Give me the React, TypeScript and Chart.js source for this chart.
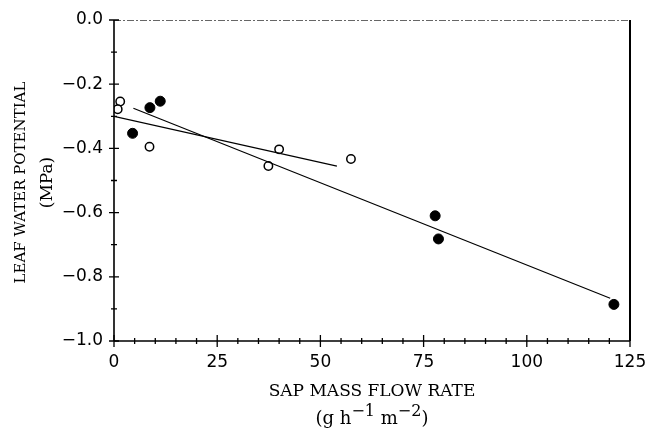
import React, { useEffect, useRef } from "react";
import { Chart, registerables } from "chart.js";

Chart.register(...registerables);

// Data
const openX = [1.5, 0.9, 8.6, 40.0, 37.4, 57.4];
const openY = [-0.254, -0.278, -0.395, -0.403, -0.455, -0.433];
const filledX = [8.7, 11.2, 4.5, 77.8, 78.6, 121.1];
const filledY = [-0.273, -0.253, -0.353, -0.61, -0.682, -0.886];
const line1X = [0, 54];
const line1Y = [-0.3, -0.455];
const line2X = [4.7, 120.2];
const line2Y = [-0.275, -0.867];
const xMajorStep = 25;
const xMinorStep = 5;
const yMajorStep = 0.2;
const yMinorStep = 0.1;
const xTitle = "SAP MASS FLOW RATE";
const yTitle = "LEAF WATER POTENTIAL";
const yUnit = "(MPa)";

const SERIF = "'DejaVu Serif', serif";
const SANS = "'DejaVu Sans', sans-serif";

const toPts = (xs: number[], ys: number[]) => xs.map((x, i) => ({ x, y: ys[i] }));

const decorPlugin = {
  id: "decor",
  afterDraw(chart: any) {
    const { ctx, chartArea } = chart;
    const xs = chart.scales.x;
    const ys = chart.scales.y;
    const { left, right, top, bottom } = chartArea;
    ctx.save();
    // top border: thin dashed grey
    ctx.strokeStyle = "#666";
    ctx.lineWidth = 1;
    ctx.setLineDash([7, 2, 2, 2]);
    ctx.beginPath();
    ctx.moveTo(left, top + 0.5);
    ctx.lineTo(right, top + 0.5);
    ctx.stroke();
    ctx.setLineDash([]);
    // right border
    ctx.strokeStyle = "#000";
    ctx.lineWidth = 2;
    ctx.beginPath();
    ctx.moveTo(right, top);
    ctx.lineTo(right, bottom);
    ctx.stroke();
    // left & bottom axes
    ctx.lineWidth = 1.6;
    ctx.beginPath();
    ctx.moveTo(left, top);
    ctx.lineTo(left, bottom);
    ctx.moveTo(left, bottom);
    ctx.lineTo(right, bottom);
    ctx.stroke();
    // ticks
    ctx.lineWidth = 1.3;
    ctx.beginPath();
    for (let v = xs.min; v <= xs.max + 1e-9; v += xMinorStep) {
      const px = xs.getPixelForValue(v);
      const major = Math.abs(v / xMajorStep - Math.round(v / xMajorStep)) < 1e-6;
      const len = major ? 6 : 3;
      ctx.moveTo(px, bottom - len);
      ctx.lineTo(px, bottom + len);
    }
    for (let v = ys.min; v <= ys.max + 1e-9; v += yMinorStep) {
      const py = ys.getPixelForValue(v);
      const major = Math.abs(v / yMajorStep - Math.round(v / yMajorStep)) < 1e-6;
      const len = major ? 5 : 3;
      ctx.moveTo(left - len, py);
      ctx.lineTo(left + len, py);
    }
    ctx.stroke();

    // x title
    ctx.fillStyle = "#000";
    const cx = (left + right) / 2;
    ctx.font = `17px ${SERIF}`;
    ctx.textAlign = "center";
    ctx.textBaseline = "alphabetic";
    ctx.fillText(xTitle, cx, 396);
    // units with superscripts
    const parts: [string, boolean][] = [
      ["(g h", false],
      ["\u22121", true],
      [" m", false],
      ["\u22122", true],
      [")", false],
    ];
    const supFont = `16px ${SERIF}`;
    const normFont = `18px ${SERIF}`;
    let total = 0;
    const widths = parts.map(([t, sup]) => {
      ctx.font = sup ? supFont : normFont;
      const w = ctx.measureText(t).width;
      total += w;
      return w;
    });
    let xPos = cx - total / 2;
    ctx.textAlign = "left";
    parts.forEach(([t, sup], i) => {
      ctx.font = sup ? supFont : normFont;
      ctx.fillText(t, xPos, sup ? 416 : 424);
      xPos += widths[i];
    });

    // y title (rotated)
    const cy = (top + bottom) / 2;
    ctx.save();
    ctx.translate(25, cy + 2);
    ctx.rotate(-Math.PI / 2);
    ctx.textAlign = "center";
    ctx.textBaseline = "alphabetic";
    ctx.font = `15px ${SERIF}`;
    ctx.fillText(yTitle, 0, 0);
    ctx.font = `17px ${SERIF}`;
    ctx.fillText(yUnit, 0, 27);
    ctx.restore();
    ctx.restore();
  },
};

export default function App() {
  const ref = useRef<HTMLCanvasElement | null>(null);
  useEffect(() => {
    if (!ref.current) return;
    const chart = new Chart(ref.current, {
      type: "scatter",
      data: {
        datasets: [
          {
            type: "line",
            data: toPts(line1X, line1Y),
            borderColor: "#000",
            borderWidth: 1.2,
            pointRadius: 0,
            fill: false,
          } as any,
          {
            type: "line",
            data: toPts(line2X, line2Y),
            borderColor: "#000",
            borderWidth: 1.2,
            pointRadius: 0,
            fill: false,
          } as any,
          {
            data: toPts(openX, openY),
            pointRadius: 4.2,
            pointBackgroundColor: "#fff",
            pointBorderColor: "#000",
            pointBorderWidth: 1.5,
          },
          {
            data: toPts(filledX, filledY),
            pointRadius: 5,
            pointBackgroundColor: "#000",
            pointBorderColor: "#000",
            pointBorderWidth: 1,
          },
        ],
      },
      options: {
        animation: false,
        responsive: false,
        events: [],
        layout: { padding: { left: 0, right: 20, top: 20, bottom: 0 } },
        plugins: { legend: { display: false }, tooltip: { enabled: false } },
        scales: {
          x: {
            type: "linear",
            min: 0,
            max: 125,
            grid: { display: false, drawTicks: false },
            border: { display: false },
            ticks: {
              stepSize: xMajorStep,
              color: "#000",
              font: { family: SANS, size: 17 },
              padding: 11,
              maxRotation: 0,
            },
            afterFit: (s: any) => {
              s.height = 88;
              s.paddingLeft = 0;
              s.paddingRight = 0;
            },
          },
          y: {
            type: "linear",
            min: -1,
            max: 0,
            grid: { display: false, drawTicks: false },
            border: { display: false },
            ticks: {
              stepSize: yMajorStep,
              color: "#000",
              font: { family: SANS, size: 17 },
              padding: 11,
              callback: (v: any) => {
                const n = Number(v);
                if (Math.abs(n) < 1e-9) return "0.0";
                return (n < 0 ? "\u2212" : "") + Math.abs(n).toFixed(1);
              },
            },
            afterFit: (s: any) => {
              s.width = 114;
              s.paddingTop = 0;
              s.paddingBottom = 0;
            },
          },
        },
      },
      plugins: [decorPlugin],
    });
    return () => chart.destroy();
  }, []);
  return (
    <div style={{ position: "fixed", left: 0, top: 0, width: 650, height: 429, background: "#fff" }}>
      <canvas ref={ref} width={650} height={429} style={{ width: 650, height: 429 }} />
    </div>
  );
}
